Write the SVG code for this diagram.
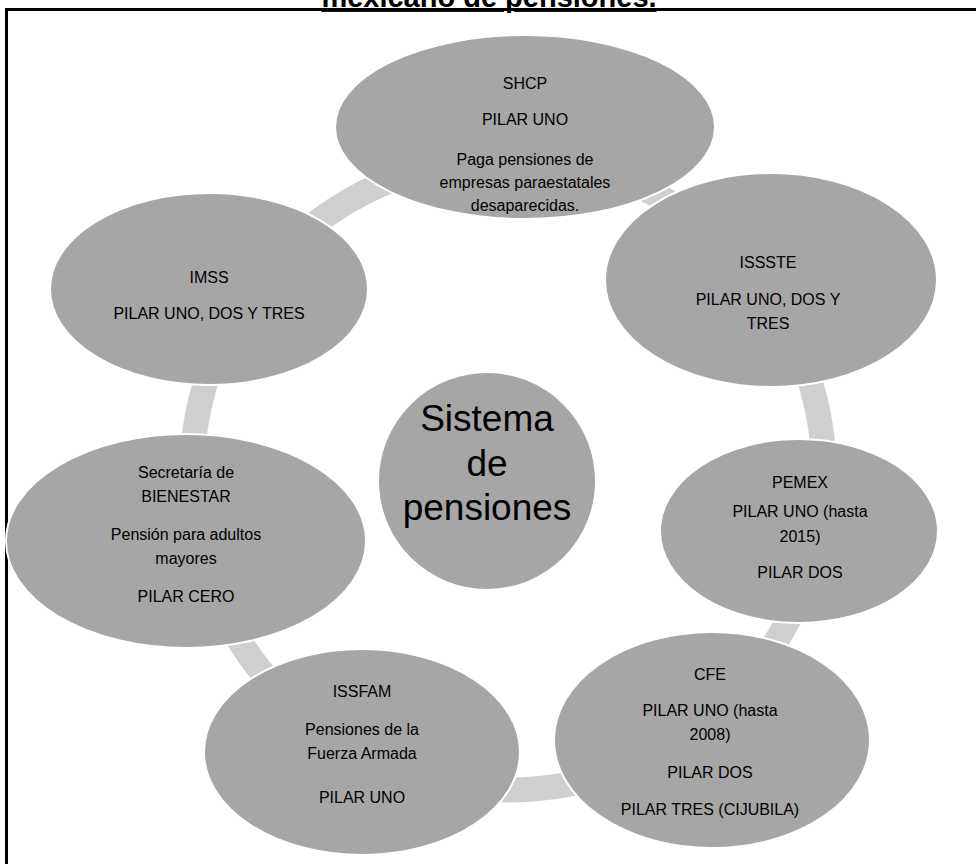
<svg xmlns="http://www.w3.org/2000/svg" width="976" height="864" viewBox="0 0 976 864">
<style>
.n{fill:#a6a6a6;stroke:#ffffff;stroke-width:2}
.t{font-family:"Liberation Sans",Arial,sans-serif;font-size:16px;fill:#000;text-anchor:middle}
.c{font-family:"Liberation Sans",Arial,sans-serif;font-size:37px;fill:#000;text-anchor:middle}
.ring{fill:none;stroke:#cfcfcf;stroke-width:25}
</style>
<rect width="976" height="864" fill="#fff"/>
<text x="489" y="7" font-family="Liberation Sans,Arial,sans-serif" font-size="29" font-weight="bold" text-anchor="middle" text-decoration="underline">mexicano de pensiones.</text>
<rect x="6.5" y="9.5" width="1000" height="1000" fill="none" stroke="#000" stroke-width="3"/>
<g id="connectors">
<circle class="ring" cx="508" cy="474" r="316"/>
</g>
<g id="center">
<circle class="n" cx="487" cy="481" r="109"/>
<text class="c" x="487" y="431">Sistema</text>
<text class="c" x="487" y="476">de</text>
<text class="c" x="487" y="520">pensiones</text>
</g>
<g id="shcp">
<ellipse class="n" cx="525" cy="127" rx="190" ry="92"/>
<text class="t" x="525" y="89">SHCP</text>
<text class="t" x="525" y="125">PILAR UNO</text>
<text class="t" x="525" y="165">Paga pensiones de</text>
<text class="t" x="525" y="188">empresas paraestatales</text>
<text class="t" x="525" y="211">desaparecidas.</text>
</g>
<g id="issste">
<ellipse class="n" cx="771" cy="280" rx="166" ry="107"/>
<text class="t" x="768" y="268">ISSSTE</text>
<text class="t" x="768" y="305">PILAR UNO, DOS Y</text>
<text class="t" x="768" y="329">TRES</text>
</g>
<g id="pemex">
<ellipse class="n" cx="799" cy="531" rx="139" ry="92"/>
<text class="t" x="800" y="488">PEMEX</text>
<text class="t" x="800" y="517">PILAR UNO (hasta</text>
<text class="t" x="800" y="542">2015)</text>
<text class="t" x="800" y="578">PILAR DOS</text>
</g>
<g id="cfe">
<ellipse class="n" cx="712" cy="740" rx="158" ry="108"/>
<text class="t" x="710" y="680">CFE</text>
<text class="t" x="710" y="716">PILAR UNO (hasta</text>
<text class="t" x="710" y="740">2008)</text>
<text class="t" x="710" y="778">PILAR DOS</text>
<text class="t" x="710" y="815">PILAR TRES  (CIJUBILA)</text>
</g>
<g id="issfam">
<ellipse class="n" cx="362" cy="752" rx="158" ry="103"/>
<text class="t" x="362" y="697">ISSFAM</text>
<text class="t" x="362" y="735">Pensiones de la</text>
<text class="t" x="362" y="759">Fuerza Armada</text>
<text class="t" x="362" y="803">PILAR UNO</text>
</g>
<g id="bienestar">
<ellipse class="n" cx="186" cy="541" rx="180" ry="107"/>
<text class="t" x="186" y="478">Secretaría de</text>
<text class="t" x="186" y="502">BIENESTAR</text>
<text class="t" x="186" y="540">Pensión para adultos</text>
<text class="t" x="186" y="564">mayores</text>
<text class="t" x="186" y="602">PILAR CERO</text>
</g>
<g id="imss">
<ellipse class="n" cx="209" cy="289" rx="159" ry="96"/>
<text class="t" x="209" y="283">IMSS</text>
<text class="t" x="209" y="319">PILAR UNO, DOS Y TRES</text>
</g>
</svg>
